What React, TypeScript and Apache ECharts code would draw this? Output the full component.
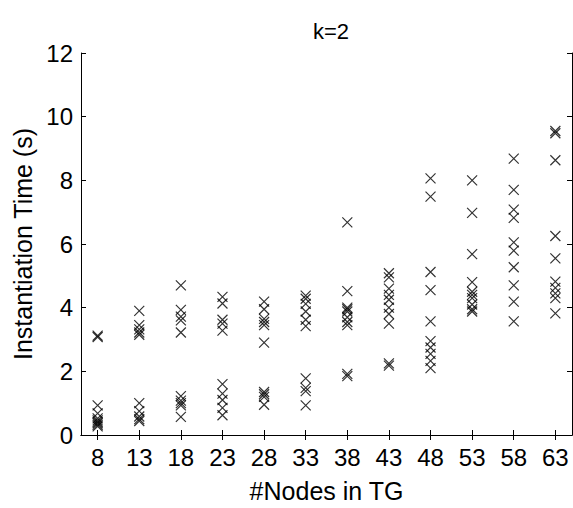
import React, { useEffect, useRef } from "react";
import * as echarts from "echarts";

// Node counts of the topology graph (x positions)
const nodeCounts = [8, 13, 18, 23, 28, 33, 38, 43, 48, 53, 58, 63];
const yTicks = [0, 2, 4, 6, 8, 10, 12];

// Instantiation times (s), ten runs per node count
const t8 = [3.12, 3.08, 0.93, 0.68, 0.52, 0.46, 0.41, 0.37, 0.32, 0.27];
const t13 = [3.9, 3.45, 3.32, 3.22, 3.15, 1.0, 0.75, 0.58, 0.5, 0.44];
const t18 = [4.7, 3.93, 3.72, 3.6, 3.22, 1.22, 1.08, 1.0, 0.93, 0.57];
const t23 = [4.34, 4.13, 3.62, 3.5, 3.28, 1.6, 1.3, 1.1, 0.85, 0.62];
const t28 = [4.19, 3.95, 3.65, 3.55, 3.45, 2.9, 1.35, 1.28, 1.2, 0.95];
const t33 = [4.38, 4.28, 4.12, 3.88, 3.62, 3.42, 1.78, 1.48, 1.38, 0.93];
const t38 = [6.68, 4.52, 4.0, 3.95, 3.88, 3.7, 3.55, 3.45, 1.92, 1.85];
const t43 = [5.08, 4.95, 4.6, 4.4, 4.25, 4.0, 3.8, 3.5, 2.25, 2.18];
const t48 = [8.06, 7.49, 5.12, 4.55, 3.57, 2.95, 2.75, 2.55, 2.33, 2.1];
const t53 = [8.0, 6.98, 5.68, 4.8, 4.5, 4.4, 4.3, 4.1, 3.95, 3.88];
const t58 = [8.68, 7.7, 7.08, 6.82, 6.05, 5.79, 5.27, 4.7, 4.19, 3.57];
const t63 = [9.55, 9.48, 8.63, 6.25, 5.55, 4.82, 4.62, 4.45, 4.3, 3.82];

const runs = [t8, t13, t18, t23, t28, t33, t38, t43, t48, t53, t58, t63];

const FONT = "'Liberation Sans', Arial, sans-serif";
const CROSS = "path://M0,0L10,10M10,0L0,10";

export default function App() {
  const ref = useRef<HTMLDivElement>(null);

  useEffect(() => {
    document.body.style.margin = "0";
    if (!ref.current) return;
    const chart = echarts.init(ref.current, undefined, { renderer: "svg" });

    const points: number[][] = [];
    nodeCounts.forEach((n, i) => runs[i].forEach((v) => points.push([n, v])));

    const axisLine = { show: true, lineStyle: { color: "#000", width: 1 } };
    const tick = { show: true, inside: true, length: 5, lineStyle: { color: "#000" } };

    chart.setOption({
      animation: false,
      backgroundColor: "#fff",
      title: {
        text: "k=2",
        left: 326,
        top: 15,
        textAlign: "center",
        textStyle: { fontFamily: FONT, fontSize: 22, fontWeight: "normal", color: "#000" },
      },
      grid: { left: 81, top: 53, right: 1, bottom: 68 },
      xAxis: [
        {
          type: "value",
          min: 6,
          max: 65,
          name: "#Nodes in TG",
          nameLocation: "middle",
          nameGap: 43,
          nameTextStyle: { fontFamily: FONT, fontSize: 25, color: "#000" },
          axisLine,
          axisTick: { ...tick, customValues: nodeCounts },
          axisLabel: {
            customValues: nodeCounts,
            fontFamily: FONT,
            fontSize: 24,
            color: "#000",
            margin: 10,
          },
          splitLine: { show: false },
        },
        {
          type: "value",
          position: "top",
          min: 6,
          max: 65,
          axisLine,
          axisTick: { ...tick, customValues: nodeCounts },
          axisLabel: { show: false },
          splitLine: { show: false },
        },
      ],
      yAxis: [
        {
          type: "value",
          min: 0,
          max: 12,
          interval: 2,
          name: "Instantiation Time (s)",
          nameLocation: "middle",
          nameGap: 46,
          nameTextStyle: { fontFamily: FONT, fontSize: 25, color: "#000" },
          axisLine,
          axisTick: tick,
          axisLabel: {
            fontFamily: FONT,
            fontSize: 24,
            color: "#000",
            margin: 8,
            formatter: (v: number) => (yTicks.includes(v) ? String(v) : ""),
          },
          splitLine: { show: false },
        },
        {
          type: "value",
          position: "right",
          min: 0,
          max: 12,
          interval: 2,
          axisLine,
          axisTick: tick,
          axisLabel: { show: false },
          splitLine: { show: false },
        },
      ],
      series: [
        {
          type: "scatter",
          data: points,
          symbol: CROSS,
          symbolSize: 10,
          itemStyle: { color: "none", borderColor: "#000", borderWidth: 1.2 },
        },
      ],
    });

    return () => chart.dispose();
  }, []);

  return <div ref={ref} style={{ width: 573, height: 508 }} />;
}
